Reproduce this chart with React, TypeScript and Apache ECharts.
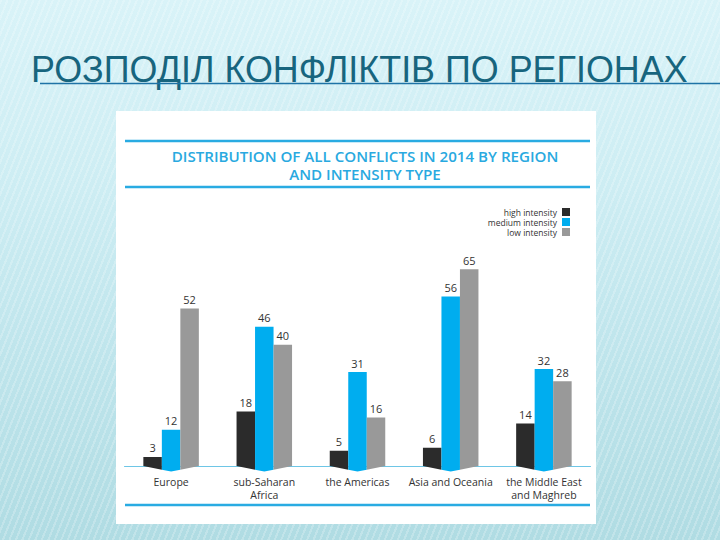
import React, { useEffect, useRef } from "react";
import * as echarts from "echarts";

const slideTitle = "РОЗПОДІЛ КОНФЛІКТІВ ПО РЕГІОНАХ";
const chartTitleLines = ["DISTRIBUTION OF ALL CONFLICTS IN 2014 BY REGION", "AND INTENSITY TYPE"];
const categories = [
  "Europe",
  "sub-Saharan\nAfrica",
  "the Americas",
  "Asia and Oceania",
  "the Middle East\nand Maghreb",
];
const seriesNames = ["high intensity", "medium intensity", "low intensity"];
const highIntensity = [3, 18, 5, 6, 14];
const mediumIntensity = [12, 46, 31, 56, 32];
const lowIntensity = [52, 40, 16, 65, 28];
const seriesValues = [highIntensity, mediumIntensity, lowIntensity];
const seriesColors = ["#2b2b2b", "#00adef", "#999999"];

const BAR_W = 18.5;
const V_DEPTH = 5.5;
const FONT = '"Open Sans", "DejaVu Sans", sans-serif';

function makeRenderItem(offset: number, color: string) {
  return (params: any, api: any) => {
    const idx = api.value(0);
    const v = api.value(1);
    const base = api.coord([idx, 0]);
    const top = api.coord([idx, v]);
    const cx = base[0];
    const by = base[1];
    const ty = top[1];
    const half = 1.5 * BAR_W;
    const x0 = cx + (offset - 0.5) * BAR_W;
    const x1 = cx + (offset + 0.5) * BAR_W;
    const dep = (x: number) => V_DEPTH * Math.max(0, 1 - Math.abs(x - cx) / half);
    const points: number[][] = [
      [x0, ty],
      [x1, ty],
      [x1, by + dep(x1)],
    ];
    if (offset === 0) points.push([cx, by + V_DEPTH]);
    points.push([x0, by + dep(x0)]);
    return {
      type: "group",
      children: [
        { type: "polygon", shape: { points }, style: { fill: color } },
        {
          type: "text",
          x: (x0 + x1) / 2,
          y: ty - 9,
          style: {
            text: String(v),
            align: "center",
            verticalAlign: "middle",
            fill: "#333333",
            font: `11px ${FONT}`,
          },
        },
      ],
    };
  };
}

export default function App() {
  const ref = useRef<HTMLDivElement>(null);
  useEffect(() => {
    if (!ref.current) return;
    const chart = echarts.init(ref.current, null, { renderer: "svg" });
    const series = seriesNames.map((name, k) => ({
      type: "custom",
      name,
      renderItem: makeRenderItem(k - 1, seriesColors[k]),
      itemStyle: { color: seriesColors[k] },
      encode: { x: 0, y: 1 },
      data: categories.map((_, i) => [i, seriesValues[k][i]]),
      z: 5,
      silent: true,
    }));
    chart.setOption({
      animation: false,
      backgroundColor: "transparent",
      grid: { left: 124.5, right: 129.5, top: 254, bottom: 74, containLabel: false },
      legend: {
        orient: "vertical",
        right: 145,
        top: 202,
        align: "right",
        icon: "rect",
        itemWidth: 8,
        itemHeight: 8,
        itemGap: 0,
        selectedMode: false,
        data: seriesNames,
        textStyle: { fontSize: 8.5, color: "#333333", fontFamily: FONT, lineHeight: 10 },
      },
      xAxis: {
        type: "category",
        data: categories,
        axisLine: { lineStyle: { color: "#6ec6e6", width: 1 } },
        axisTick: { show: false },
        axisLabel: {
          interval: 0,
          color: "#333333",
          fontSize: 10.5,
          fontFamily: FONT,
          lineHeight: 13,
          margin: 9,
        },
        z: 0,
      },
      yAxis: { type: "value", min: 0, max: 70, show: false, splitLine: { show: false } },
      graphic: [
        {
          type: "rect",
          z: -10,
          shape: { x: 116, y: 111, width: 480, height: 413 },
          style: { fill: "#ffffff" },
        },
        {
          type: "text",
          x: 31,
          y: 69,
          scaleX: 0.97,
          originX: 0,
          style: {
            text: slideTitle,
            font: '37px "Liberation Sans", Arial, sans-serif',
            fill: "#17657e",
            verticalAlign: "middle",
            align: "left",
          },
        },
        {
          type: "line",
          shape: { x1: 40, y1: 83.5, x2: 720, y2: 83.5 },
          style: { stroke: "#1f73a6", lineWidth: 1.5 },
        },
        {
          type: "line",
          shape: { x1: 125, y1: 141, x2: 590, y2: 141 },
          style: { stroke: "#29abe2", lineWidth: 2.5 },
        },
        {
          type: "line",
          shape: { x1: 125, y1: 187, x2: 590, y2: 187 },
          style: { stroke: "#29abe2", lineWidth: 2.5 },
        },
        {
          type: "line",
          shape: { x1: 125, y1: 505, x2: 590, y2: 505 },
          style: { stroke: "#29abe2", lineWidth: 2.5 },
        },
        ...chartTitleLines.map((line, i) => ({
          type: "text",
          x: 365,
          y: 156.5 + i * 18,
          scaleX: 1.08,
          originX: 0,
          style: {
            text: line,
            font: `600 14px ${FONT}`,
            fill: "#29a9e0",
            align: "center",
            verticalAlign: "middle",
          },
        })),
      ],
      series,
    });
    return () => chart.dispose();
  }, []);
  return (
    <div
      style={{
        position: "fixed",
        left: 0,
        top: 0,
        width: 720,
        height: 540,
        background:
          "repeating-linear-gradient(112deg, rgba(255,255,255,0.22) 0px, rgba(255,255,255,0.22) 2px, rgba(255,255,255,0) 2px, rgba(255,255,255,0) 6px), linear-gradient(180deg, #d9f3f8 0%, #cdedf3 35%, #bfe5ec 65%, #b0dce3 100%)",
      }}
    >
      <div ref={ref} style={{ width: 720, height: 540 }} />
    </div>
  );
}
